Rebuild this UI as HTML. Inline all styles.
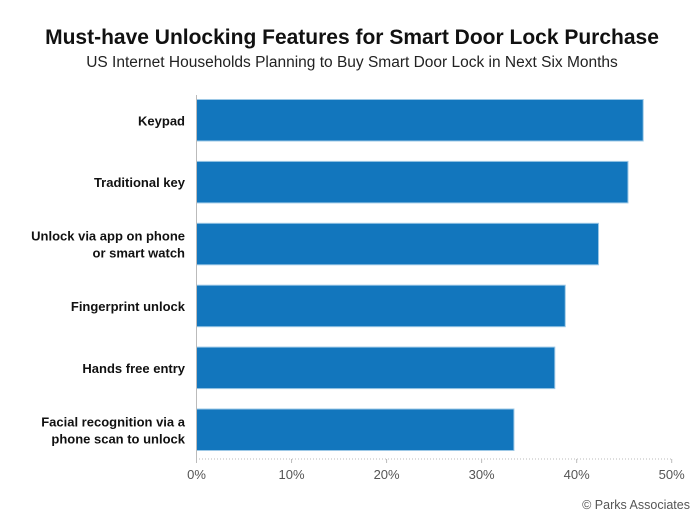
<!DOCTYPE html>
<html><head><meta charset="utf-8"><style>
body{margin:0;background:#fff;font-family:"Liberation Sans",sans-serif}
</style></head><body>
<svg width="700" height="520" viewBox="0 0 700 520">
<text x="352" y="44" text-anchor="middle" font-size="21" font-weight="bold" fill="#111">Must-have Unlocking Features for Smart Door Lock Purchase</text>
<text x="352" y="67" text-anchor="middle" font-size="15.5" fill="#222">US Internet Households Planning to Buy Smart Door Lock in Next Six Months</text>
<g id="bars"></g>
<g id="labels"></g>
<g id="ticks"></g>
<line x1="196.5" y1="95" x2="196.5" y2="459" stroke="#bbb" stroke-width="1"/>
<line x1="196" y1="459" x2="672" y2="459" stroke="#bbb" stroke-width="1" stroke-dasharray="1,2"/>
<text x="690" y="509" text-anchor="end" font-size="12.5" fill="#555">© Parks Associates</text>
</svg>
<script>
const categories=[["Keypad"],["Traditional key"],["Unlock via app on phone","or smart watch"],["Fingerprint unlock"],["Hands free entry"],["Facial recognition via a","phone scan to unlock"]];
const values=[47.0,45.4,42.3,38.8,37.7,33.4];
const tickValues=[0,10,20,30,40,50];
const tickLabels=["0%","10%","20%","30%","40%","50%"];
const NS="http://www.w3.org/2000/svg";
const x0=196.5,x1=671.7,xmax=50;
function xs(v){return x0+(v/xmax)*(x1-x0);}
const top0=99.5,step=61.9,bh=41.5;
function ys(i){return top0+i*step;}
const gb=document.getElementById('bars'),gl=document.getElementById('labels'),gt=document.getElementById('ticks');
values.forEach((v,i)=>{
 const r=document.createElementNS(NS,'rect');
 
 
 r.setAttribute('x',x0);r.setAttribute('y',ys(i));
 r.setAttribute('width',xs(v)-x0);r.setAttribute('height',bh);
 r.setAttribute('fill','#1276bd');r.setAttribute('stroke','#9cc8e6');r.setAttribute('stroke-width','1');
 gb.appendChild(r);
 const lines=categories[i];
 const cy=ys(i)+bh/2;
 lines.forEach((ln,j)=>{
  const t=document.createElementNS(NS,'text');
  
  
  t.setAttribute('x',185);
  t.setAttribute('y',cy+5+(j-(lines.length-1)/2)*17);
  t.setAttribute('text-anchor','end');t.setAttribute('font-size','13');t.setAttribute('font-weight','bold');t.setAttribute('fill','#111');
  t.textContent=ln;gl.appendChild(t);
 });
});
tickValues.forEach((v,i)=>{
 const t=document.createElementNS(NS,'text');
 
 
 t.setAttribute('x',xs(v));t.setAttribute('y',479);
 t.setAttribute('text-anchor','middle');t.setAttribute('font-size','13');t.setAttribute('fill','#555');
 t.textContent=tickLabels[i];gt.appendChild(t);
 const l=document.createElementNS(NS,'line');
 
 
 l.setAttribute('x1',xs(v));l.setAttribute('x2',xs(v));l.setAttribute('y1',459);l.setAttribute('y2',463);
 l.setAttribute('stroke','#bbb');gt.appendChild(l);
});
</script>
</body></html>
